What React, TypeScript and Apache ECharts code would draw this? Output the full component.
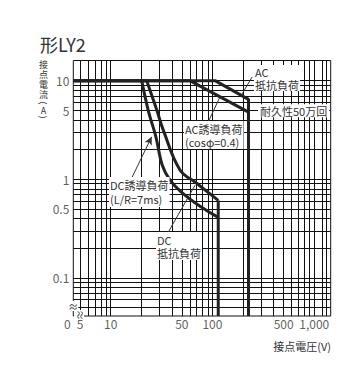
import React, { useEffect, useRef } from "react";
import * as echarts from "echarts";

// Axis extents (left edge = "0" break, bottom edge = "0" break)
const xMin = 4.3;
const xMax = 1450;
const yMin = 0.041;
const yMax = 16;

// Grid lines
const xGrid = [5, 6, 7, 8, 9, 10, 20, 30, 40, 50, 60, 70, 80, 90, 100, 200, 300, 400, 500, 600, 700, 800, 900, 1000, 1200, 1300];
const yGrid = [0.05, 0.06, 0.07, 0.08, 0.09, 0.1, 0.2, 0.3, 0.4, 0.5, 0.6, 0.7, 0.8, 0.9, 1, 2, 3, 4, 5, 6, 7, 8, 9, 10];

// Tick labels
const xTickVals = [5, 10, 50, 100, 500, 1000];
const xTickLabels = ["5", "10", "50", "100", "500", "1,000"];
const yTickVals = [10, 5, 1, 0.5, 0.1];
const yTickLabels = ["10", "5", "1", "0.5", "0.1"];

// Vertical y-axis title characters (parentheses drawn turned for vertical writing)
const yTitleChars = ["接", "点", "電", "流", "(", "A", ")"];

// Curves [voltage V, current A]
const acResistive = [[xMin, 10], [106, 10], [226, 6.45], [226, yMin]];
const acInductive = [[xMin, 10], [60, 10], [226, 4.8]];
const dcResistiveFlat = [[xMin, 10], [22.6, 10]];
const dcResistiveCurve = [[22.6, 10], [28.4, 5.03], [32.9, 3.15], [48, 1.24], [70, 0.91], [114, 0.61]];
const dcResistiveDrop = [[114, 0.61], [114, yMin]];
const dcInductiveCurve = [[20.2, 10], [23.4, 5], [26.7, 3.15], [38.3, 0.98], [114, 0.41]];

// Leader lines [from, to]
const leaders = [
  [[244.8, 10.85], [195, 7.3]],
  [[87.9, 3.54], [118.7, 6.85]],
  [[35, 0.265], [67.5, 0.87]],
];
const arrowLeader = [[14.9, 0.871], [25.3, 2.69]];

const FONT = '"Noto Sans CJK JP", "Noto Sans", sans-serif';
const TXT = "#333";

function txt(text: string, x: number, y: number, size: number, opts: any = {}) {
  const align = opts.align || "left";
  const valign = opts.valign || "middle";
  return {
    type: "text",
    x,
    y,
    rotation: opts.rotation || 0,
    z: 100,
    style: {
      text,
      x: 0,
      y: 0,
      font: `${size}px ${FONT}`,
      fill: TXT,
      align,
      textAlign: align,
      verticalAlign: valign,
      textVerticalAlign: valign,
      lineHeight: opts.lineHeight,
      backgroundColor: opts.bg,
      padding: opts.padding,
    },
  };
}

export default function App() {
  const ref = useRef<HTMLDivElement>(null);
  useEffect(() => {
    if (!ref.current) return;
    const chart = echarts.init(ref.current, null, { renderer: "svg" });
    const curveStyle = { color: "#222", width: 3 };
    const curve = (data: number[][], smooth: any = false) => ({
      type: "line",
      data,
      smooth,
      showSymbol: false,
      symbol: "none",
      lineStyle: curveStyle,
      z: 5,
      silent: true,
      clip: false,
    });
    const yTitleY = [64.5, 74.5, 84.5, 94.5, 103, 110, 117];
    const yTitleRot = [0, 0, 0, 0, -Math.PI / 2, 0, -Math.PI / 2];
    const option: any = {
      animation: false,
      grid: {
        left: 73.3,
        right: 22.3,
        top: 60.5,
        bottom: 53,
        show: true,
        borderColor: "#111",
        borderWidth: 1,
      },
      xAxis: {
        type: "log",
        logBase: 10,
        min: xMin,
        max: xMax,
        axisLine: { show: false },
        axisTick: { show: false },
        axisLabel: { show: false },
        splitLine: { show: false },
      },
      yAxis: {
        type: "log",
        logBase: 10,
        min: yMin,
        max: yMax,
        axisLine: { show: false },
        axisTick: { show: false },
        axisLabel: { show: false },
        splitLine: { show: false },
      },
      series: [
        {
          type: "line",
          data: [],
          silent: true,
          z: 1,
          markLine: {
            silent: true,
            symbol: ["none", "none"],
            label: { show: false },
            lineStyle: { color: "#111", width: 1, type: "solid" },
            data: [
              ...xGrid.map((v) => ({ xAxis: v })),
              ...yGrid.map((v) => ({ yAxis: v })),
            ],
          },
        },
        curve(acResistive),
        curve(acInductive),
        curve(dcResistiveFlat),
        curve(dcResistiveCurve, 0.4),
        curve(dcResistiveDrop),
        curve(dcInductiveCurve, 0.4),
        {
          type: "line",
          data: [],
          silent: true,
          z: 6,
          markLine: {
            silent: true,
            symbol: ["none", "none"],
            label: { show: false },
            lineStyle: { color: "#333", width: 1, type: "solid" },
            data: leaders.map((p) => [{ coord: p[0] }, { coord: p[1] }]),
          },
        },
        {
          type: "line",
          data: [],
          silent: true,
          z: 6,
          markLine: {
            silent: true,
            symbol: ["none", "arrow"],
            symbolSize: [6, 8],
            label: { show: false },
            lineStyle: { color: "#333", width: 1, type: "solid" },
            data: [[{ coord: arrowLeader[0] }, { coord: arrowLeader[1] }]],
          },
        },
        {
          type: "scatter",
          symbolSize: 0,
          silent: true,
          clip: false,
          z: 10,
          data: [
            ...xTickVals.map((v, i) => ({
              value: [v, yMin],
              label: {
                show: true,
                position: "bottom",
                distance: 1,
                formatter: xTickLabels[i],
              },
            })),
            {
              value: [xMin, yMin],
              label: {
                show: true,
                position: "bottom",
                distance: 1,
                offset: [-6, 0],
                formatter: "0",
              },
            },
          ],
          label: { color: TXT, fontSize: 12, fontFamily: FONT },
        },
        {
          type: "scatter",
          symbolSize: 0,
          silent: true,
          clip: false,
          z: 10,
          data: yTickVals.map((v, i) => ({
            value: [xMin, v],
            label: {
              show: true,
              position: "left",
              distance: 4,
              formatter: yTickLabels[i],
            },
          })),
          label: { color: TXT, fontSize: 12, fontFamily: FONT },
        },
      ],
      graphic: [
        txt("形LY2", 40, 44, 18, { valign: "middle" }),
        ...yTitleChars.map((c, i) =>
          txt(c, 43.5, yTitleY[i], 9, { align: "center", rotation: yTitleRot[i] })
        ),
        txt("接点電圧(V)", 331, 346, 11, { align: "right" }),
        txt("AC\n抵抗負荷", 254, 78, 11, { lineHeight: 13, bg: "#fff", padding: [0, 1] }),
        txt("耐久性50万回", 258, 110.7, 11, { bg: "#fff", padding: [1, 2] }),
        txt("AC誘導負荷\n(cosφ=0.4)", 184, 135, 11, { lineHeight: 13, bg: "#fff", padding: [1, 1] }),
        txt("DC誘導負荷\n(L/R=7ms)", 109, 192, 11, { lineHeight: 14, bg: "#fff", padding: [1, 1] }),
        txt("DC\n抵抗負荷", 156, 246, 11, { lineHeight: 13, bg: "#fff", padding: [1, 1] }),
        txt("≈", 73.3, 306, 10, { align: "center", bg: "#fff" }),
        txt("≈", 79, 315, 10, { align: "center", rotation: Math.PI / 2, bg: "#fff" }),
      ],
    };
    chart.setOption(option);
    return () => chart.dispose();
  }, []);
  return (
    <div
      ref={ref}
      style={{ position: "fixed", left: 0, top: 0, width: 353, height: 369, background: "#fff" }}
    />
  );
}
